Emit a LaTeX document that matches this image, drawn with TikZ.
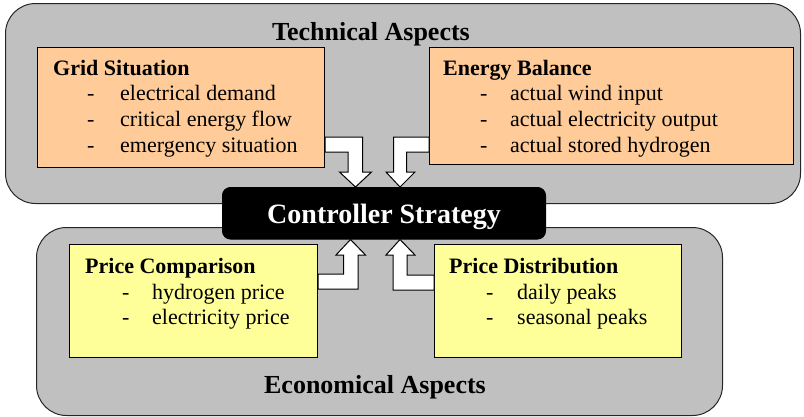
\documentclass[tikz,border=0pt]{standalone}
\usepackage{fontspec}
\setmainfont{Liberation Serif}
\definecolor{aspectgray}{HTML}{C0C0C0}
\definecolor{peach}{HTML}{FFCC99}
\definecolor{lightyellow}{HTML}{FFFF99}
\begin{document}
\begin{tikzpicture}[x=1pt,y=-1pt,
  aspect/.style={draw=black!85, fill=aspectgray, line width=1pt, rounded corners=30pt, inner sep=0pt, anchor=north west},
  infobox/.style={draw=black, line width=1pt, inner sep=0pt, anchor=north west},
  ctrlbox/.style={draw=black, fill=black, line width=1pt, rounded corners=8pt, inner sep=0pt, anchor=north west},
  blockarrow/.style={draw=black, fill=white, line width=1pt, line join=miter},
  ttl/.style={font=\bfseries\fontsize{22}{25}\selectfont, anchor=base west, inner sep=0pt},
  itm/.style={font=\fontsize{22}{25}\selectfont, anchor=base west, inner sep=0pt},
  big/.style={font=\bfseries\fontsize{26}{30}\selectfont, anchor=base, inner sep=0pt}]
\useasboundingbox (0,0) rectangle (804,416);
% aspect containers
\node[aspect, minimum width=795pt, minimum height=200pt] (tech) at (5,3) {};
\node[aspect, minimum width=686pt, minimum height=188pt] (econ) at (36,227) {};
% info boxes
\node[infobox, fill=peach, minimum width=287pt, minimum height=120pt] (grid) at (37,47) {};
\node[infobox, fill=peach, minimum width=364pt, minimum height=117pt] (bal) at (429,47) {};
\node[infobox, fill=lightyellow, minimum width=248pt, minimum height=113pt] (pcomp) at (69,244) {};
\node[infobox, fill=lightyellow, minimum width=247pt, minimum height=113pt] (pdist) at (434,244) {};
% controller
\node[ctrlbox, minimum width=323pt, minimum height=51.5pt] (ctrl) at (222,187) {};
% block arrows
\draw[blockarrow] (grid.east |- 0,137) -- (362.5,137) -- (362.5,172) -- (371.5,172)
  -- (ctrl.north -| 355.5,0) -- (339.5,172) -- (348,172) -- (348,152) -- (grid.east |- 0,152) -- cycle;
\draw[blockarrow] (bal.west |- 0,137) -- (393.5,137) -- (393.5,172) -- (386,172)
  -- (ctrl.north -| 400,0) -- (415,172) -- (406.5,172) -- (406.5,152) -- (bal.west |- 0,152) -- cycle;
\draw[blockarrow] (pcomp.east |- 0,274) -- (343.5,274) -- (343.5,255) -- (336,255)
  -- (ctrl.south -| 350.5,0) -- (365.5,255) -- (358,255) -- (358,289) -- (pcomp.east |- 0,289) -- cycle;
\draw[blockarrow] (pdist.west |- 0,275) -- (407,275) -- (407,255) -- (415,255)
  -- (ctrl.south -| 400,0) -- (386,255) -- (393,255) -- (393,290) -- (pdist.west |- 0,290) -- cycle;
% labels
\node[big] (techlbl) at (371,40) {Technical Aspects};
\node[big] (econlbl) at (375,393) {Economical Aspects};
\node[font=\bfseries\fontsize{28}{32}\selectfont, text=white, anchor=base, inner sep=0pt] (ctrllbl) at (384,223) {Controller Strategy};
% grid situation
\node[ttl] (gridt) at (53,75) {Grid Situation};
\node[itm] (g1) at (87,100) {\makebox[33pt][l]{-}electrical demand};
\node[itm] (g2) at (87,126) {\makebox[33pt][l]{-}critical energy flow};
\node[itm] (g3) at (87,152) {\makebox[33pt][l]{-}emergency situation};
% energy balance
\node[ttl] (balt) at (443,75) {Energy Balance};
\node[itm] (b1) at (480,100) {\makebox[30pt][l]{-}actual wind input};
\node[itm] (b2) at (480,126) {\makebox[30pt][l]{-}actual electricity output};
\node[itm] (b3) at (480,152) {\makebox[30pt][l]{-}actual stored hydrogen};
% price comparison
\node[ttl] (pcompt) at (85,273) {Price Comparison};
\node[itm] (c1) at (122,299) {\makebox[30pt][l]{-}hydrogen price};
\node[itm] (c2) at (122,324) {\makebox[30pt][l]{-}electricity price};
% price distribution
\node[ttl] (pdistt) at (449,273) {Price Distribution};
\node[itm] (d1) at (486,299) {\makebox[31pt][l]{-}daily peaks};
\node[itm] (d2) at (486,324) {\makebox[31pt][l]{-}seasonal peaks};
\end{tikzpicture}
\end{document}
